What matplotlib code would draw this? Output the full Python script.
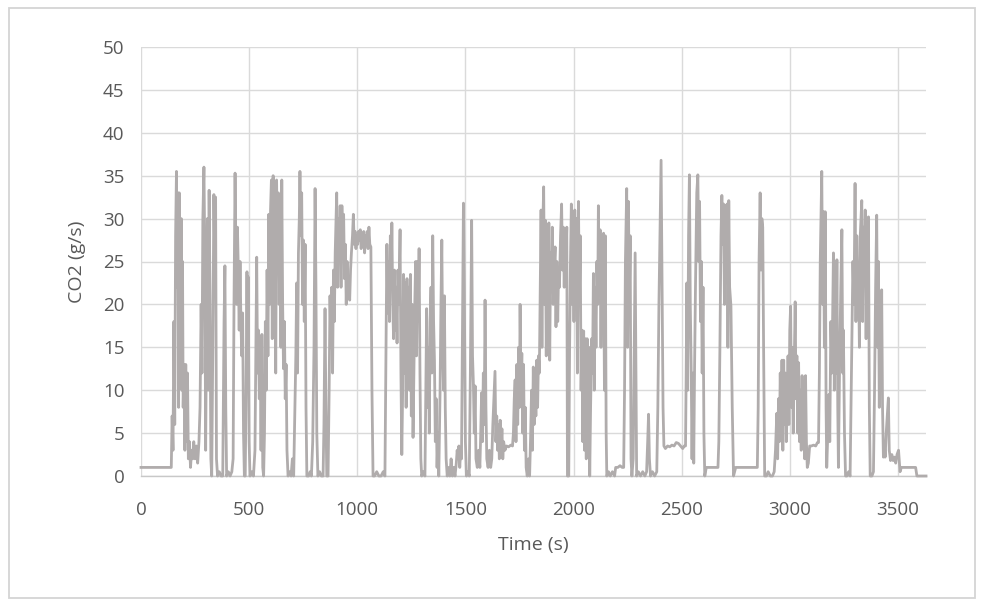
import numpy as np
import matplotlib
matplotlib.use("Agg")
import matplotlib.pyplot as plt
from matplotlib.patches import Rectangle

# CO2 emission trace, (time s, g/s), split by 500 s blocks
seg_0_500 = [(0, 1), (140, 1), (144, 7), (148, 3), (152, 18), (156, 6), (160, 28), (164, 35.5), (168, 22),
             (171, 33), (174, 8), (177, 33), (180, 27), (183, 12), (186, 30), (189, 10), (192, 25), (195, 8),
             (199, 13), (203, 3), (207, 13), (211, 4), (215, 12), (219, 2), (224, 4), (229, 1), (234, 3),
             (239, 2), (244, 4), (250, 2), (256, 3.5), (262, 1.5), (268, 4), (273, 8), (278, 20), (282, 12),
             (286, 30), (291, 36), (295, 26), (299, 3), (303, 18), (307, 30), (311, 10), (315, 33.3), (319, 21),
             (323, 2), (327, 0), (332, 15), (337, 32.8), (341, 25), (345, 32.5), (349, 2), (354, 0), (362, 0.5),
             (370, 0), (378, 0), (384, 18), (388, 24.5), (392, 8), (396, 0), (404, 0.5), (412, 0), (420, 0.5),
             (426, 2), (430, 20), (435, 35.3), (438, 28), (442, 20), (446, 29), (450, 24), (454, 17), (458, 25),
             (462, 18), (466, 14), (470, 19), (474, 5), (478, 0), (482, 0), (486, 10), (490, 23.8), (493, 12),
             (496, 23.2), (500, 4)]

seg_500_1000 = [(504, 0), (512, 0.5), (520, 0), (527, 3), (531, 15), (535, 25.5), (539, 12), (543, 17), (547, 9),
                (551, 16), (555, 3), (559, 16.5), (563, 1), (567, 0), (571, 5), (575, 18), (579, 10), (583, 24),
                (587, 14), (591, 30.5), (595, 20), (599, 31), (603, 34.5), (607, 16), (611, 35), (615, 22),
                (619, 33), (623, 12), (627, 34.5), (631, 25), (635, 33), (639, 20), (643, 30), (647, 15),
                (651, 34.5), (655, 20), (659, 12.5), (663, 18), (667, 9), (671, 13), (675, 3), (680, 0),
                (688, 0.5), (694, 0), (700, 2), (706, 0), (712, 8), (716, 14), (720, 22.5), (724, 12), (728, 26),
                (732, 30), (735, 35.5), (739, 28), (743, 33), (747, 20), (751, 27.5), (755, 18), (759, 27),
                (763, 8), (767, 0), (775, 0), (782, 0.5), (788, 0), (794, 4), (800, 15), (805, 33.5), (809, 22),
                (813, 5), (818, 0), (826, 0.5), (834, 0), (842, 0), (846, 6), (851, 19.5), (855, 8), (859, 0),
                (865, 0), (870, 10), (874, 21), (878, 15), (882, 22), (886, 12), (890, 24), (894, 18), (898, 26),
                (902, 30), (905, 33), (909, 22), (913, 30), (917, 25), (921, 31.5), (925, 22), (929, 31.5),
                (933, 27), (937, 30.5), (941, 23), (945, 27), (949, 20), (953, 25), (957, 21), (961, 23),
                (965, 20.5), (969, 24), (973, 26), (978, 28), (982, 30.5), (986, 27), (990, 28.5), (994, 26.5),
                (998, 28)]

seg_1000_1500 = [(1002, 27), (1006, 28.5), (1010, 27.5), (1014, 28.7), (1018, 26.5), (1022, 28), (1026, 27),
                 (1030, 28.5), (1034, 26), (1038, 28), (1042, 27.5), (1046, 28.5), (1050, 26.5), (1054, 29),
                 (1058, 27), (1063, 26.7), (1068, 10), (1073, 0), (1080, 0), (1090, 0.5), (1100, 0), (1110, 0),
                 (1120, 0.5), (1128, 0), (1133, 15), (1137, 27), (1141, 19), (1145, 25), (1149, 18), (1153, 28),
                 (1157, 22), (1160, 29.5), (1164, 20), (1168, 16), (1172, 24), (1176, 17), (1180, 22), (1184, 15.5),
                 (1188, 24), (1192, 20), (1198, 28.7), (1202, 12), (1206, 2.5), (1210, 10), (1214, 23.5),
                 (1218, 12), (1222, 22.5), (1226, 8), (1230, 23), (1234, 14), (1238, 22), (1242, 10), (1246, 23.5),
                 (1250, 7), (1254, 20), (1258, 4.5), (1262, 12), (1266, 20), (1270, 25), (1274, 14), (1278, 25),
                 (1282, 18), (1286, 26.5), (1290, 12), (1294, 2), (1298, 0), (1306, 0.5), (1313, 0), (1317, 10),
                 (1321, 19.5), (1325, 8), (1329, 15), (1333, 5), (1337, 18), (1341, 22), (1345, 12), (1349, 28),
                 (1353, 18), (1357, 13.5), (1361, 4), (1365, 9), (1369, 1), (1373, 5), (1377, 0), (1383, 10),
                 (1387, 20), (1391, 27.5), (1395, 15), (1399, 10), (1403, 21), (1407, 8), (1411, 2), (1416, 0),
                 (1422, 1), (1428, 0), (1434, 2), (1440, 0), (1446, 1), (1452, 0), (1458, 1.5), (1462, 3),
                 (1466, 2), (1470, 3.5), (1474, 1), (1478, 3), (1482, 2), (1486, 15), (1491, 31.8), (1495, 22)]

seg_1500_2000 = [(1500, 4), (1505, 0), (1512, 0.5), (1518, 0), (1523, 12), (1529, 29.8), (1533, 14), (1537, 10.8),
                 (1541, 5), (1545, 10.5), (1549, 2), (1555, 1), (1561, 3), (1567, 1), (1571, 5), (1575, 9.7),
                 (1579, 4), (1583, 12), (1587, 6), (1591, 20.5), (1595, 8), (1599, 2), (1605, 1), (1611, 3),
                 (1617, 1), (1622, 2), (1627, 6), (1632, 9), (1637, 12.2), (1641, 4), (1645, 7), (1649, 3),
                 (1653, 6), (1657, 2), (1661, 6.5), (1665, 3), (1669, 5.5), (1673, 2), (1677, 4), (1683, 3),
                 (1690, 3.5), (1700, 3.4), (1710, 3.6), (1718, 3.5), (1722, 5), (1726, 9), (1730, 11.2), (1734, 4),
                 (1738, 13), (1742, 6), (1746, 15), (1750, 8), (1753, 20), (1757, 10), (1761, 14.3), (1765, 5),
                 (1769, 13), (1773, 3), (1777, 8), (1781, 1), (1786, 0), (1792, 2), (1797, 0), (1802, 5),
                 (1806, 10), (1810, 3), (1814, 12.7), (1818, 6), (1822, 12), (1826, 7), (1830, 13.5), (1834, 8),
                 (1838, 14), (1842, 12), (1846, 22), (1850, 31), (1854, 15), (1858, 29), (1862, 33.7), (1866, 20),
                 (1870, 29.8), (1874, 14), (1878, 28), (1882, 18), (1886, 29.5), (1890, 13.5), (1894, 26),
                 (1898, 22), (1902, 29), (1906, 20), (1910, 24), (1915, 26.7), (1919, 17.4), (1923, 25),
                 (1927, 18), (1931, 24), (1935, 22), (1940, 28), (1945, 31.7), (1949, 24), (1953, 29), (1957, 22),
                 (1961, 28.5), (1965, 25), (1969, 29), (1972, 0), (1978, 0), (1982, 15), (1986, 25), (1990, 31.7),
                 (1994, 20), (1998, 30)]

seg_2000_2500 = [(2002, 18), (2006, 31), (2010, 22), (2014, 30), (2018, 12), (2023, 32), (2027, 20), (2031, 28),
                 (2035, 10), (2039, 17), (2043, 4), (2047, 16.9), (2051, 3), (2055, 16), (2059, 2), (2063, 16),
                 (2067, 5), (2071, 15), (2075, 0), (2079, 8), (2084, 16), (2088, 12), (2092, 23.6), (2096, 10),
                 (2100, 22), (2104, 15), (2108, 25), (2112, 20), (2115, 31.5), (2119, 22), (2123, 28.7), (2127, 15),
                 (2131, 28), (2135, 20), (2139, 28.3), (2143, 10), (2147, 28), (2151, 5), (2154, 0), (2162, 0.5),
                 (2170, 0), (2180, 0.5), (2190, 0), (2195, 1), (2205, 1), (2215, 1.2), (2225, 1), (2232, 1),
                 (2236, 10), (2240, 25), (2246, 33.5), (2250, 15), (2254, 32), (2258, 20), (2262, 28), (2266, 2),
                 (2270, 0), (2276, 2), (2281, 15), (2285, 26), (2289, 10), (2292, 0), (2300, 0.5), (2310, 0),
                 (2320, 0.5), (2330, 0), (2338, 0.5), (2343, 4), (2347, 7.2), (2351, 2), (2356, 0), (2365, 0.5),
                 (2375, 0), (2385, 0.5), (2390, 8), (2395, 20), (2400, 28), (2405, 36.8), (2410, 20), (2414, 8),
                 (2418, 3.5), (2425, 3.2), (2435, 3.5), (2445, 3.4), (2455, 3.6), (2465, 3.5), (2475, 3.9),
                 (2485, 3.8), (2495, 3.5)]

seg_2500_3000 = [(2505, 3.2), (2512, 3.5), (2518, 3.5), (2521, 12), (2524, 22.5), (2528, 10), (2532, 28),
                 (2536, 35.1), (2540, 20), (2544, 13), (2548, 2), (2552, 12), (2556, 1.5), (2560, 13), (2564, 22),
                 (2570, 33), (2575, 35.1), (2579, 25), (2583, 32), (2587, 18), (2591, 25), (2595, 12), (2599, 22),
                 (2603, 5), (2607, 0), (2614, 1), (2625, 1), (2640, 1), (2655, 1), (2668, 1), (2672, 4), (2677, 15),
                 (2682, 28), (2686, 32.7), (2690, 27), (2694, 31.7), (2698, 20), (2702, 31.5), (2706, 24),
                 (2710, 31.7), (2714, 15), (2718, 32.1), (2722, 22), (2728, 19.8), (2734, 8), (2740, 0), (2745, 0.5),
                 (2750, 1), (2765, 1), (2780, 1), (2795, 1), (2810, 1), (2825, 1), (2840, 1), (2850, 1), (2854, 8),
                 (2858, 25), (2863, 33), (2867, 24), (2871, 30), (2875, 29), (2879, 15), (2884, 0), (2892, 0),
                 (2900, 0.5), (2910, 0), (2920, 0), (2928, 0.5), (2934, 3), (2940, 7.3), (2944, 2), (2948, 9),
                 (2952, 4), (2956, 12), (2960, 5), (2964, 13.5), (2968, 3), (2972, 13.5), (2976, 6), (2980, 12),
                 (2984, 4), (2988, 8), (2992, 14), (2996, 6)]

seg_3000_end = [(3000, 17), (3004, 19.8), (3008, 8), (3012, 15), (3016, 5), (3020, 12), (3025, 20.3), (3029, 9),
                (3033, 14), (3037, 5), (3041, 13.2), (3045, 4), (3049, 10), (3053, 3), (3057, 11.7), (3061, 5),
                (3065, 11), (3069, 2), (3073, 11.7), (3077, 4), (3081, 1), (3086, 1.5), (3092, 3.5), (3100, 3.5),
                (3110, 3.6), (3120, 3.5), (3128, 3.9), (3133, 3.9), (3137, 12), (3141, 25), (3148, 35.5),
                (3152, 20), (3156, 30.8), (3160, 15), (3164, 30.8), (3168, 8), (3171, 1), (3176, 5), (3181, 9.5),
                (3185, 4), (3190, 18), (3195, 12), (3202, 26), (3206, 10), (3210, 24), (3214, 12), (3218, 25.2),
                (3222, 8), (3225, 1), (3230, 12), (3236, 22), (3241, 28.7), (3245, 12), (3248, 17), (3253, 5),
                (3258, 0), (3264, 0), (3272, 0.5), (3279, 0), (3283, 8), (3287, 16), (3292, 25), (3297, 20),
                (3302, 34.1), (3306, 18), (3310, 28), (3314, 22.5), (3318, 24), (3322, 15), (3326, 28),
                (3333, 32.1), (3337, 18), (3341, 29), (3345, 24), (3349, 31), (3353, 16), (3357, 29), (3361, 20),
                (3364, 30.2), (3368, 8), (3372, 0), (3380, 0), (3387, 0.5), (3392, 10), (3397, 22), (3402, 30.4),
                (3406, 15), (3410, 25), (3414, 8), (3418, 20), (3422, 10), (3425, 21.7), (3429, 8), (3433, 2.2),
                (3437, 4), (3441, 2.2), (3446, 5), (3451, 7), (3456, 9.1), (3460, 3), (3466, 1.8), (3472, 2.5),
                (3478, 1.8), (3484, 2.2), (3490, 1.5), (3496, 2.5), (3503, 3), (3507, 1.5), (3510, 0.5), (3516, 1),
                (3530, 1), (3545, 1), (3560, 1), (3575, 1), (3582, 1), (3588, 0), (3600, 0), (3630, 0)]

x_ticks = [0, 500, 1000, 1500, 2000, 2500, 3000, 3500]
y_ticks = [0, 5, 10, 15, 20, 25, 30, 35, 40, 45, 50]

segments = [seg_0_500, seg_500_1000, seg_1000_1500, seg_1500_2000,
            seg_2000_2500, seg_2500_3000, seg_3000_end]
data = np.array([p for seg in segments for p in seg])
time_s = data[:, 0]
co2 = data[:, 1]

plt.rcParams['font.family'] = ['Open Sans', 'DejaVu Sans']

fig = plt.figure(figsize=(9.81, 6.02), dpi=100)
fig.patch.set_facecolor('white')

# chart area border like the spreadsheet frame
fig.patches.append(Rectangle((9 / 981, 1 - 598 / 602), 966 / 981, 590 / 602,
                             transform=fig.transFigure, fill=False,
                             edgecolor='#d4d4d4', linewidth=1.3))

ax = fig.add_axes([141 / 981, 1 - 476 / 602, 785 / 981, 429 / 602])

ax.plot(time_s, co2, color='#b0acac', linewidth=2.0, clip_on=False, zorder=3)

ax.set_xlim(0, 3630)
ax.set_ylim(0, 50)
ax.set_xticks(x_ticks)
ax.set_yticks(y_ticks)
ax.grid(True, color='#dadada', linewidth=1.0)
ax.set_axisbelow(True)

for side in ['top', 'right', 'left']:
    ax.spines[side].set_visible(False)
ax.spines['bottom'].set_color('#c8c8c8')
ax.spines['bottom'].set_linewidth(1.0)

ax.tick_params(axis='both', length=0, labelsize=13.5, labelcolor='#595959')
ax.tick_params(axis='x', pad=18)
ax.tick_params(axis='y', pad=12)

ax.set_xlabel('Time (s)', fontsize=14, color='#595959', labelpad=12)
ax.set_ylabel('CO2 (g/s)', fontsize=14, color='#595959', labelpad=12)

fig.savefig('out.png', dpi=100, facecolor='white')
